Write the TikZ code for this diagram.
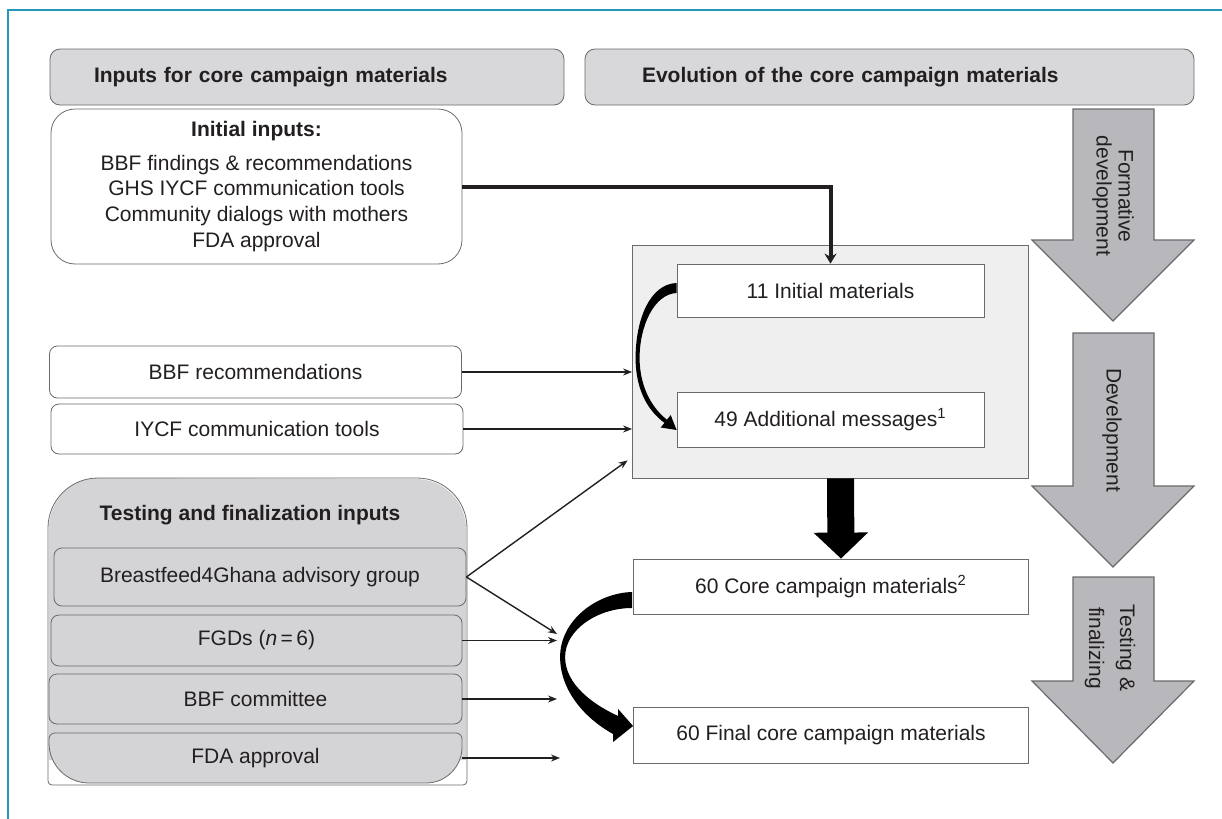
\documentclass[tikz,border=0pt]{standalone}
\usepackage{fontspec}
\setmainfont{Liberation Sans}
\usetikzlibrary{positioning,arrows.meta,calc}

\definecolor{framecol}{HTML}{2298BA}
\definecolor{edgecol}{HTML}{6A6A6C}
\definecolor{inkcol}{HTML}{231F20}
\definecolor{hdrcol}{HTML}{D8D8DA}
\definecolor{testcol}{HTML}{D4D4D6}
\definecolor{contcol}{HTML}{EFEFEF}
\definecolor{phasecol}{HTML}{B8B8BC}

\begin{document}
\begin{tikzpicture}[
    x=0.5pt, y=-0.5pt,
    every node/.style={font=\fontsize{10.5}{12.8}\selectfont, text=inkcol},
    hdr/.style={draw=edgecol, fill=hdrcol, rounded corners=5pt, minimum height=28pt,
        align=left, font=\fontsize{10.5}{12.8}\selectfont\bfseries},
    inbox/.style={draw=edgecol, fill=white, rounded corners=4pt, minimum width=206pt, minimum height=25pt},
    subbox/.style={inbox, fill=testcol},
    stagebox/.style={draw=edgecol, fill=white, minimum width=197.5pt, minimum height=27.5pt},
    phase/.style={draw=edgecol, fill=phasecol, line width=0.6pt},
    phasetxt/.style={rotate=-90, align=center},
    feed/.style={draw=inkcol, line width=0.7pt, -{Stealth[length=4.5pt,width=3.5pt]}},
    mainfeed/.style={draw=inkcol, line width=2pt, -{Stealth[length=5pt,width=6pt]}},
    fatarrow/.style={draw=black, line width=13.5pt, -{Triangle[width=26.5pt,length=13pt]}},
    curl/.style={fill=black}
]
\useasboundingbox (0,0) rectangle (1222,819);

% frame
\draw[framecol, line width=1.1pt] (8,819) -- (8,10) -- (1222,10);

% headers
\node[hdr, text width=213pt, inner xsep=22pt] (hdrin) at (307,77) {Inputs for core campaign materials};
\node[hdr, text width=247.5pt, inner xsep=28.5pt] (hdrevo) at (889.5,77) {Evolution of the core campaign materials};

% inputs
\node[inbox, rounded corners=12pt, minimum width=205.5pt, minimum height=77.5pt, align=center] (init) at (256.5,186.5)
    {\textbf{Initial inputs:}\\[4pt] BBF findings \& recommendations\\GHS IYCF communication tools\\Community dialogs with mothers\\FDA approval};
\node[inbox, minimum height=26pt] (bbfrec) at (255.5,372) {BBF recommendations};
\node[inbox] (iycf) at (257,429) {IYCF communication tools};

% testing and finalization block
\fill[testcol] (49,760) -- (49,528) arc[start angle=180,end angle=90,radius=25pt]
    -- (416,479) arc[start angle=90,end angle=0,radius=25pt] -- (466,760) -- cycle;
\draw[edgecol] (48,781) -- (48,528) arc[start angle=180,end angle=90,radius=25pt]
    -- (417,478) arc[start angle=90,end angle=0,radius=25pt] -- (467,781)
    arc[start angle=0,end angle=-90,radius=2pt] -- (52,785) arc[start angle=270,end angle=180,radius=2pt] -- cycle;
\draw[edgecol, fill=testcol] (49,739) arc[start angle=180,end angle=90,radius=3pt] -- (456,733)
    arc[start angle=90,end angle=0,radius=3pt] -- (462,747) arc[start angle=0,end angle=-90,radius=18pt]
    -- (89,783) arc[start angle=270,end angle=180,radius=20pt] -- cycle;

\node[font=\fontsize{10.5}{12.8}\selectfont\bfseries] (testtitle) at (250,515) {Testing and finalization inputs};
\node[subbox, minimum height=29pt] (b4g) at (260,577) {Breastfeed4Ghana advisory group};
\node[subbox, minimum width=205.5pt, minimum height=25.5pt] (fgd) at (256.5,640.5) {FGDs (\textit{n}\,=\,6)};
\node[subbox, minimum width=206.5pt] (bbfc) at (255.5,699) {BBF committee};
\node[minimum width=206.5pt, minimum height=25pt] (fda) at (255.5,758) {FDA approval};

% evolution column
\node[draw=edgecol, fill=contcol, minimum width=198pt, minimum height=116.5pt] (cont) at (830.5,361.5) {};
\node[stagebox, minimum width=153.5pt, minimum height=26.5pt] (init11) at (830.5,290.5) {11 Initial materials};
\node[stagebox, minimum width=153.5pt] (add49) at (830.5,419.5) {49 Additional messages\textsuperscript{1}};
\node[stagebox] (core60) at (831,586.5) {60 Core campaign materials\textsuperscript{2}};
\node[stagebox, minimum height=28pt] (final60) at (831,735) {60 Final core campaign materials};

% phase arrows
\draw[phase] (1073,109) -- (1154,109) -- (1154,240) -- (1194,240) -- (1113,321) -- (1032,240) -- (1073,240) -- cycle;
\draw[phase] (1073,333) -- (1154,333) -- (1154,486) -- (1194,486) -- (1113,567) -- (1032,486) -- (1073,486) -- cycle;
\draw[phase] (1073,577) -- (1154,577) -- (1154,681) -- (1194,681) -- (1113,763) -- (1032,681) -- (1073,681) -- cycle;
\node[phasetxt, font=\fontsize{10.5}{11}\selectfont] (formtxt) at (1113,196) {Formative\\development};
\node[phasetxt] (devtxt) at (1112,430) {Development};
\node[phasetxt, font=\fontsize{10.5}{15.5}\selectfont] (testtxt) at (1110,648) {Testing \&\\finalizing};

% connectors
\draw[mainfeed] (init.east) -| (init11.north);
\draw[feed] (bbfrec.east) -- (bbfrec.east -| cont.west);
\draw[feed] (iycf.east) -- (iycf.east -| cont.west);
\draw[feed] (b4g.east) -- ($(cont.south west)+(-4.5,-18)$);

\coordinate (merge) at (557,634);
\draw[feed] (b4g.east) -- (merge);
\draw[feed] (fgd.east) -- (fgd.east -| merge);
\draw[feed] (bbfc.east) -- (bbfc.east -| merge);
\draw[feed] (fda.east) -- ([xshift=1.5pt]fda.east -| merge);

\draw[fatarrow] ([xshift=5pt]cont.south) -- ([xshift=5pt]core60.north);

% curved arrows
\begin{scope}[shift={(init11.west)}]
  \fill[curl] (0,-7.5) .. controls (-27,-6.5) and (-41,29.5) .. (-41,67.5)
      .. controls (-41,101.5) and (-27,121.5) .. (-12.1,132.4) -- (-15.9,137) -- (0,139.5)
      -- (-5.9,124.6) -- (-9.7,129.2) .. controls (-22,119.5) and (-37,99.5) .. (-37,67.5)
      .. controls (-37,34.5) and (-22,3.5) .. (0,2.5) -- cycle;
\end{scope}
\begin{scope}[shift={(core60.west)}]
  \fill[curl] (-1,5.5) .. controls (-36,6.5) and (-73,33.5) .. (-73,70.5)
      .. controls (-73,103.5) and (-49,131.5) .. (-20,147.5) -- (-20,155.5) -- (0,139.5)
      -- (-15,122.5) -- (-15,129.5) .. controls (-39,118.5) and (-68,98.5) .. (-68,70.5)
      .. controls (-68,43.5) and (-36,21.5) .. (-1,21.5) -- cycle;
\end{scope}

\end{tikzpicture}
\end{document}
